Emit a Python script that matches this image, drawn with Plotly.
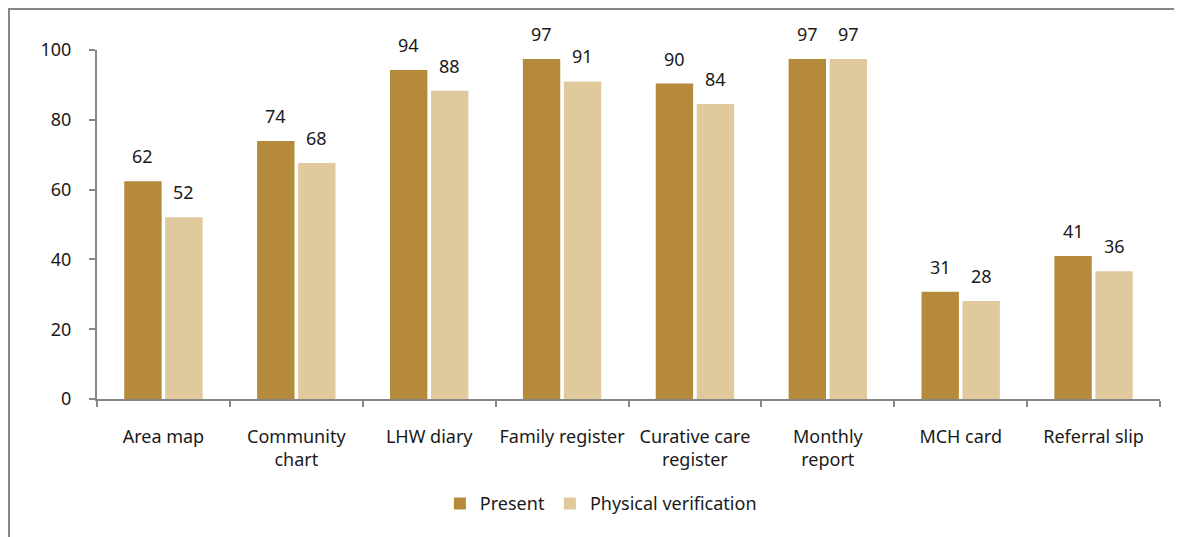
import plotly.graph_objects as go

categories = ["Area map", "Community<br>chart", "LHW diary", "Family register",
              "Curative care<br>register", "Monthly<br>report", "MCH card", "Referral slip"]
present = [62.4, 73.9, 94.3, 97.4, 90.4, 97.4, 30.7, 41.0]
physical = [52.1, 67.6, 88.3, 91.0, 84.5, 97.4, 28.1, 36.6]
present_labels = ["62", "74", "94", "97", "90", "97", "31", "41"]
physical_labels = ["52", "68", "88", "91", "84", "97", "28", "36"]

C_PRESENT = "#B58A3A"
C_PHYS = "#E0C99D"
FONT = "Noto Sans"
FS = 18
TXT = "#1a1a1a"
AXIS = "#868686"

fig = go.Figure()
fig.add_trace(go.Bar(name="Present", x=categories, y=present,
                     marker=dict(color=C_PRESENT, line=dict(width=0))))
fig.add_trace(go.Bar(name="Physical verification", x=categories, y=physical,
                     marker=dict(color=C_PHYS, line=dict(width=0))))

annotations = []
for cat, v, lab in zip(categories, present, present_labels):
    annotations.append(dict(x=cat, y=v, text=lab, xref="x", yref="y", showarrow=False,
                            xshift=-20.5, yshift=11, yanchor="bottom",
                            font=dict(family=FONT, size=FS, color=TXT)))
for cat, v, lab in zip(categories, physical, physical_labels):
    annotations.append(dict(x=cat, y=v, text=lab, xref="x", yref="y", showarrow=False,
                            xshift=20.5, yshift=11, yanchor="bottom",
                            font=dict(family=FONT, size=FS, color=TXT)))

fig.update_layout(
    width=1182, height=537,
    margin=dict(l=89, r=30, t=42, b=146),
    paper_bgcolor="white", plot_bgcolor="white",
    barmode="group", bargap=0.383, bargroupgap=0.088,
    font=dict(family=FONT, size=FS, color=TXT),
    showlegend=True,
    legend=dict(orientation="h", x=0.474, xanchor="center", y=-0.30, yanchor="middle",
                font=dict(family=FONT, size=FS, color=TXT),
                itemwidth=30, traceorder="normal"),
    annotations=annotations,
    shapes=[dict(type="rect", xref="paper", yref="paper",
                 x0=-0.0828, x1=1.2, y0=-0.6, y1=1.1175,
                 line=dict(color=AXIS, width=2), layer="below")],
)
fig.update_xaxes(showline=True, linecolor=AXIS, linewidth=2, tickangle=0,
                 ticks="outside", tickson="boundaries", ticklen=6, tickcolor=AXIS, tickwidth=2,
                 showgrid=False, ticklabelstandoff=20,
                 tickfont=dict(family=FONT, size=FS, color=TXT))
fig.update_yaxes(range=[0, 100], dtick=20, showline=True, linecolor=AXIS, linewidth=2,
                 ticks="outside", ticklen=6, tickcolor=AXIS, tickwidth=2,
                 showgrid=False, zeroline=False, ticklabelstandoff=14,
                 tickfont=dict(family=FONT, size=FS, color=TXT))

fig.write_html("out.html")
